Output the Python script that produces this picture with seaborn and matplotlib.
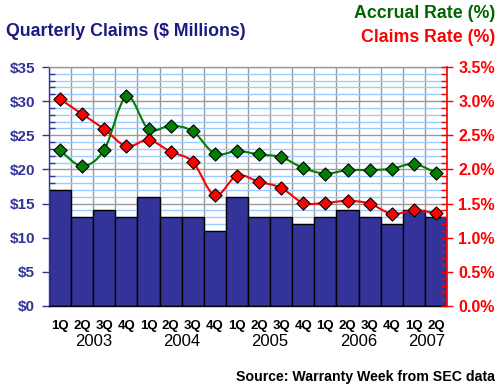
import matplotlib
matplotlib.use("Agg")
import matplotlib.pyplot as plt
from matplotlib.path import Path
from matplotlib.patches import PathPatch
from matplotlib.ticker import MultipleLocator, FixedLocator
import matplotlib.transforms as mtransforms
import seaborn as sns
import numpy as np

# --- data ---
periods = ["1Q03", "2Q03", "3Q03", "4Q03", "1Q04", "2Q04", "3Q04", "4Q04",
           "1Q05", "2Q05", "3Q05", "4Q05", "1Q06", "2Q06", "3Q06", "4Q06",
           "1Q07", "2Q07"]
quarter_labels = ["1Q", "2Q", "3Q", "4Q"] * 4 + ["1Q", "2Q"]
year_labels = ["2003", "2004", "2005", "2006", "2007"]
year_centers = [1.5, 5.5, 9.5, 13.5, 16.6]

claims = [17, 13, 14, 13, 16, 13, 13, 11, 16, 13, 13, 12, 13, 14, 13, 12, 14, 13]
accrual_rate = [2.28, 2.05, 2.29, 3.07, 2.59, 2.64, 2.56, 2.23, 2.27, 2.22,
                2.18, 2.02, 1.94, 1.99, 1.99, 2.01, 2.08, 1.95]
claims_rate = [3.03, 2.81, 2.59, 2.34, 2.43, 2.26, 2.11, 1.62, 1.91, 1.82,
               1.73, 1.51, 1.51, 1.54, 1.50, 1.35, 1.40, 1.36]

NAVY = "#333399"
GREEN = "#007f00"
RED = "#ff0000"

sns.set_style("white")
plt.rcParams["font.family"] = ["Liberation Sans", "DejaVu Sans"]

fig = plt.figure(figsize=(5, 3.88), dpi=100)
ax = fig.add_axes([49 / 500, 82 / 388, 398 / 500, 239 / 388])

# bars
sns.barplot(x=periods, y=claims, color=NAVY, saturation=1, width=1,
            edgecolor="black", linewidth=1, ax=ax, zorder=2)
ax.set_xlim(-0.5, len(periods) - 0.5)
ax.set_ylim(0, 35)
ax.set_xlabel("")
ax.set_ylabel("")

# grid
ax.set_axisbelow(True)
ax.yaxis.set_major_locator(MultipleLocator(5))
ax.yaxis.set_minor_locator(MultipleLocator(1))
ax.xaxis.set_major_locator(FixedLocator(range(len(periods))))
ax.xaxis.set_minor_locator(FixedLocator(np.arange(-0.5, len(periods), 1)))
ax.yaxis.grid(True, which="minor", color="#99ccff", lw=1, zorder=0)
ax.yaxis.grid(True, which="major", color="#999999", lw=1, zorder=0)
ax.xaxis.grid(True, which="minor", color="#999999", lw=1, zorder=0)
ax.xaxis.grid(False, which="major")

# left axis styling
ax.set_yticks(range(0, 36, 5))
ax.set_yticklabels([f"${v}" for v in range(0, 36, 5)])
ax.tick_params(axis="y", which="major", direction="out", length=5, width=1,
               color=NAVY, labelcolor=NAVY, labelsize=11, pad=5)
ax.tick_params(axis="y", which="minor", direction="in", length=4, width=1, color=NAVY)
for lab in ax.get_yticklabels():
    lab.set_fontweight("bold")

ax.set_xticklabels(quarter_labels)
ax.tick_params(axis="x", which="major", length=0, labelsize=9.5, pad=10, labelcolor="black")
ax.tick_params(axis="x", which="minor", direction="out", length=5, width=1, color="black")
for lab in ax.get_xticklabels():
    lab.set_fontweight("bold")

ax.spines["left"].set_color(NAVY)
ax.spines["bottom"].set_color("black")
ax.spines["top"].set_color("#999999")
ax.spines["right"].set_visible(False)
for s in ax.spines.values():
    s.set_linewidth(1)

# year labels
trans = mtransforms.blended_transform_factory(ax.transData, ax.transAxes)
for yr, xc in zip(year_labels, year_centers):
    ax.text(xc, -0.147, yr, transform=trans, ha="center", va="center",
            fontsize=12, color="black")

# right axis with rates
ax2 = ax.twinx()
ax2.set_ylim(0, 3.5)
ax2.yaxis.set_major_locator(MultipleLocator(0.5))
ax2.yaxis.set_minor_locator(MultipleLocator(0.1))
ax2.set_yticks(np.arange(0, 3.51, 0.5))
ax2.set_yticklabels([f"{v:.1f}%" for v in np.arange(0, 3.51, 0.5)])
ax2.tick_params(axis="y", which="major", direction="inout", length=8, width=1,
                color=RED, labelcolor=RED, labelsize=11.5, pad=4)
ax2.tick_params(axis="y", which="minor", direction="in", length=4, width=1, color=RED)
for lab in ax2.get_yticklabels():
    lab.set_fontweight("bold")
for name in ["left", "top", "bottom"]:
    ax2.spines[name].set_visible(False)
ax2.spines["right"].set_color(RED)
ax2.spines["right"].set_linewidth(1.2)
ax2.grid(False)


def smooth_path(xs, ys):
    # Catmull-Rom segments drawn as cubic Bezier curves (like Excel's smoothed line)
    pts = np.column_stack([xs, ys]).astype(float)
    n = len(pts)
    verts = [pts[0]]
    codes = [Path.MOVETO]
    for i in range(n - 1):
        p0 = pts[i - 1] if i > 0 else pts[i]
        p1 = pts[i]
        p2 = pts[i + 1]
        p3 = pts[i + 2] if i + 2 < n else pts[i + 1]
        c1 = p1 + (p2 - p0) / 6
        c2 = p2 - (p3 - p1) / 6
        verts += [c1, c2, p2]
        codes += [Path.CURVE4] * 3
    return Path(verts, codes)


xpos = np.arange(len(periods))
for series, col in [(accrual_rate, GREEN), (claims_rate, RED)]:
    ax2.add_patch(PathPatch(smooth_path(xpos, series), facecolor="none",
                            edgecolor=col, lw=1.5, zorder=3))
    sns.scatterplot(x=xpos, y=series, marker="D", s=45, color=col,
                    edgecolor="black", linewidth=0.8, ax=ax2, zorder=4, legend=False)
ax2.set_xlim(-0.5, len(periods) - 0.5)
ax2.set_ylabel("")

# titles and source
fig.text(6 / 500, 1 - 32 / 388, "Quarterly Claims ($ Millions)", ha="left", va="center",
         fontsize=12.8, fontweight="bold", color="#1a1a80")
fig.text(495 / 500, 1 - 13 / 388, "Accrual Rate (%)", ha="right", va="center",
         fontsize=12.8, fontweight="bold", color="#006600")
fig.text(495 / 500, 1 - 37 / 388, "Claims Rate (%)", ha="right", va="center",
         fontsize=12.8, fontweight="bold", color=RED)
fig.text(495 / 500, 1 - 377 / 388, "Source: Warranty Week from SEC data", ha="right",
         va="center", fontsize=10.2, fontweight="bold", color="black")

fig.savefig("out.png", dpi=100, facecolor="white")
